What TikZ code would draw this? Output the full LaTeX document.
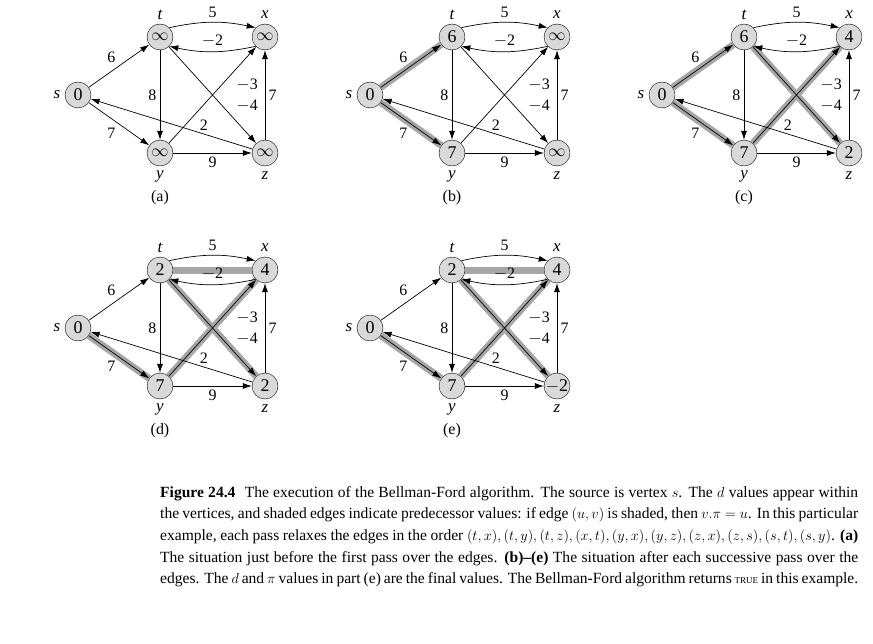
\documentclass[tikz,border=0pt]{standalone}
\usepackage{fontspec}
\setmainfont{Liberation Serif}
\usetikzlibrary{arrows.meta}

\tikzset{
  vertex/.style={circle,draw,fill=black!15,minimum size=26bp,inner sep=0pt,font=\fontsize{18}{18}\selectfont},
  vname/.style={font=\itshape\fontsize{17}{17}\selectfont},
  wt/.style={font=\fontsize{16}{16}\selectfont},
  edge/.style={-{Latex[length=9bp,width=6bp]},line width=0.7bp},
  shade/.style={line width=7bp,black!35},
}

% one panel of the figure
\newcommand{\bfpanel}[9]{%
\begin{scope}[shift={(#2,#3)}]
  \node[vertex] (#1s) at (78,95) {#4};
  \node[vertex] (#1t) at (160,37) {#5};
  \node[vertex] (#1x) at (265,37) {#6};
  \node[vertex] (#1y) at (160,153) {#7};
  \node[vertex] (#1z) at (265,153) {#8};
  \node[vname] at (57,95) {s};
  \node[vname] at (160,15) {t};
  \node[vname] at (265,15) {x};
  \node[vname] at (160,176) {y};
  \node[vname] at (265,176) {z};
  \foreach \u/\v in {#9} \draw[shade] (#1\u) -- (#1\v);
  \draw[edge] (#1t.north east) to[bend left=12] node[wt,above=1bp] {5} (#1x.north west);
  \draw[edge] (#1x.south west) to[bend left=12] node[wt,above=1bp] {$-$2} (#1t.south east);
  \draw[edge] (#1s) -- node[wt,above left=0bp] {6} (#1t);
  \draw[edge] (#1s) -- node[wt,below left=0bp] {7} (#1y);
  \draw[edge] (#1t) -- node[wt,left] {8} (#1y);
  \draw[edge] (#1t) -- node[wt,pos=0.72,above right=1bp] {$-$4} (#1z);
  \draw[edge] (#1y) -- node[wt,pos=0.72,below right=1bp] {$-$3} (#1x);
  \draw[edge] (#1y) -- node[wt,below] {9} (#1z);
  \draw[edge] (#1z) -- node[wt,right] {7} (#1x);
  \draw[edge] (#1z) -- node[wt,pos=0.3,above] {2} (#1s);
  \node[wt] at (160,198) {(\csname lbl#1\endcsname)};
\end{scope}}
\def\lbla{a}\def\lblb{b}\def\lblc{c}\def\lbld{d}\def\lble{e}

\begin{document}
\begin{tikzpicture}[x=1bp,y=-1bp]
\useasboundingbox (0,0) rectangle (873,644);
\bfpanel{a}{0}{0}{0}{$\infty$}{$\infty$}{$\infty$}{$\infty$}{}
\bfpanel{b}{292}{0}{0}{6}{$\infty$}{7}{$\infty$}{s/t,s/y}
\bfpanel{c}{584}{0}{0}{6}{4}{7}{2}{s/t,s/y,y/x,t/z}
\bfpanel{d}{0}{233}{0}{2}{4}{7}{2}{x/t,s/y,y/x,t/z}
\bfpanel{e}{292}{233}{0}{2}{4}{7}{$-$2}{x/t,s/y,y/x,t/z}
\node[anchor=north west,inner sep=0pt,text width=698bp,align=justify,
  font=\fontsize{15.6}{21.7}\selectfont] (caption) at (160,486)
 {\textbf{Figure 24.4}\hspace{0.6em}The execution of the Bellman-Ford algorithm. The source is vertex $s$. The $d$ values appear within the vertices, and shaded edges indicate predecessor values: if edge $(u,v)$ is shaded, then $v.\pi = u$. In this particular example, each pass relaxes the edges in the order $(t,x),(t,y),(t,z),(x,t),(y,x),(y,z),(z,x),(z,s),(s,t),(s,y)$. \textbf{(a)} The situation just before the first pass over the edges. \textbf{(b)--(e)} The situation after each successive pass over the edges. The $d$ and $\pi$ values in part (e) are the final values. The Bellman-Ford algorithm returns {\small TRUE} in this example.};
\end{tikzpicture}
\end{document}
